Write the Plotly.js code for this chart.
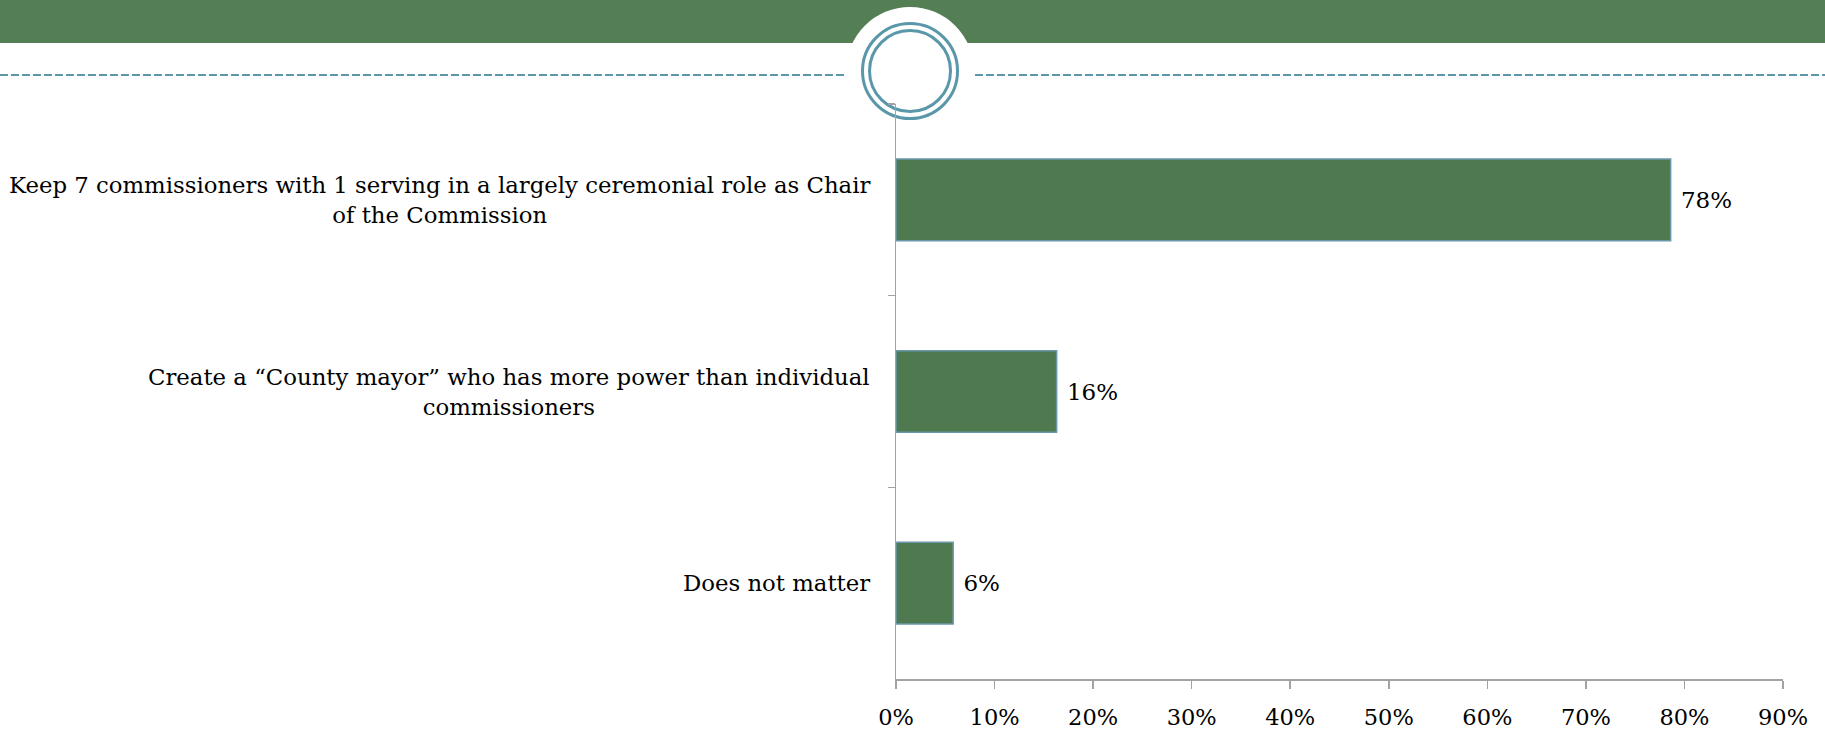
<!DOCTYPE html>
<html>
<head>
<meta charset="utf-8">
<script src="https://cdn.plot.ly/plotly-3.0.1.min.js"></script>
<style>
html, body { margin: 0; padding: 0; background: #ffffff; }
#chart { width: 1825px; height: 731px; }
</style>
</head>
<body>
<div id="chart"></div>
<script>
// Categories (top to bottom) and values
const categories = [
  "Keep 7 commissioners with 1 serving in a largely ceremonial role as Chair<br>of the Commission",
  "Create a \u201cCounty mayor\u201d who has more power than individual<br>commissioners",
  "Does not matter"
];
const values = [78.6, 16.3, 5.8];
const valueLabels = ["78%", "16%", "6%"];
const xTickValues = [0, 10, 20, 30, 40, 50, 60, 70, 80, 90];
const xTickLabels = ["0%", "10%", "20%", "30%", "40%", "50%", "60%", "70%", "80%", "90%"];

const FONT = "DejaVu Serif, Liberation Serif, serif";
const GREEN_BAND = "#547F55";
const BAR_FILL = "#4F7A50";
const BAR_EDGE = "#6A98AA";
const TEAL = "#5A98A9";
const AXIS_GRAY = "#A3A3A3";

const trace = {
  type: "bar",
  orientation: "h",
  y: categories,
  x: values,
  text: valueLabels.map(function (t) { return "\u00a0" + t; }),
  textposition: "outside",
  cliponaxis: false,
  textfont: { family: FONT, size: 23, color: "#000000" },
  marker: { color: BAR_FILL, line: { color: BAR_EDGE, width: 1.5 } },
  hoverinfo: "none"
};

const annotations = categories.map(function (c) {
  return {
    xref: "paper", x: 0, xanchor: "right", xshift: -24,
    yref: "y", y: c, yanchor: "middle",
    text: c, showarrow: false, align: "center",
    font: { family: FONT, size: 22.8, color: "#000000" }
  };
});

// header decoration geometry (plot area: x 896..1783, y 104..679)
const cx = 0.0158, cy = 1.0574;
const shapes = [
  { type: "rect", xref: "paper", yref: "paper", x0: -1.1, x1: 1.1, y0: 1.1061, y1: 1.3,
    fillcolor: GREEN_BAND, line: { width: 0 }, layer: "below" },
  { type: "circle", xref: "paper", yref: "paper", xsizemode: "pixel", ysizemode: "pixel",
    xanchor: cx, yanchor: cy, x0: -64, x1: 64, y0: -64, y1: 64,
    fillcolor: "#ffffff", line: { width: 0 }, layer: "below" },
  { type: "circle", xref: "paper", yref: "paper", xsizemode: "pixel", ysizemode: "pixel",
    xanchor: cx, yanchor: cy, x0: -47.5, x1: 47.5, y0: -47.5, y1: 47.5,
    line: { color: TEAL, width: 3 }, layer: "below" },
  { type: "circle", xref: "paper", yref: "paper", xsizemode: "pixel", ysizemode: "pixel",
    xanchor: cx, yanchor: cy, x0: -40.5, x1: 40.5, y0: -40.5, y1: 40.5,
    line: { color: TEAL, width: 3 }, layer: "below" },
  { type: "line", xref: "paper", yref: "paper", x0: -1.0102, x1: -0.0552, y0: 1.0504, y1: 1.0504,
    line: { color: TEAL, width: 2, dash: "8px,3px" }, layer: "below" },
  { type: "line", xref: "paper", yref: "paper", x0: 0.0891, x1: 1.0474, y0: 1.0504, y1: 1.0504,
    line: { color: TEAL, width: 2, dash: "8px,3px" }, layer: "below" }
];

const layout = {
  width: 1825, height: 731,
  margin: { l: 896, r: 42, t: 104, b: 52, pad: 0 },
  paper_bgcolor: "#ffffff",
  plot_bgcolor: "rgba(0,0,0,0)",
  showlegend: false,
  bargap: 0.574,
  font: { family: FONT, color: "#000000" },
  xaxis: {
    range: [0, 90],
    tickvals: xTickValues,
    ticktext: xTickLabels,
    showgrid: false, zeroline: false,
    showline: true, linecolor: AXIS_GRAY, linewidth: 1.5,
    ticks: "outside", ticklen: 8, tickwidth: 1.5, tickcolor: AXIS_GRAY,
    tickfont: { family: FONT, size: 22.5, color: "#000000" },
    ticklabelstandoff: 9,
    fixedrange: true
  },
  yaxis: {
    type: "category",
    categoryorder: "array",
    categoryarray: categories,
    range: [2.5, -0.5],
    showgrid: false, zeroline: false,
    showline: true, linecolor: AXIS_GRAY, linewidth: 1.5,
    ticks: "outside", tickson: "boundaries", ticklen: 7, tickwidth: 1.5, tickcolor: AXIS_GRAY,
    showticklabels: false,
    fixedrange: true
  },
  annotations: annotations,
  shapes: shapes
};

Plotly.newPlot("chart", [trace], layout, { displayModeBar: false, staticPlot: true });
</script>
</body>
</html>
